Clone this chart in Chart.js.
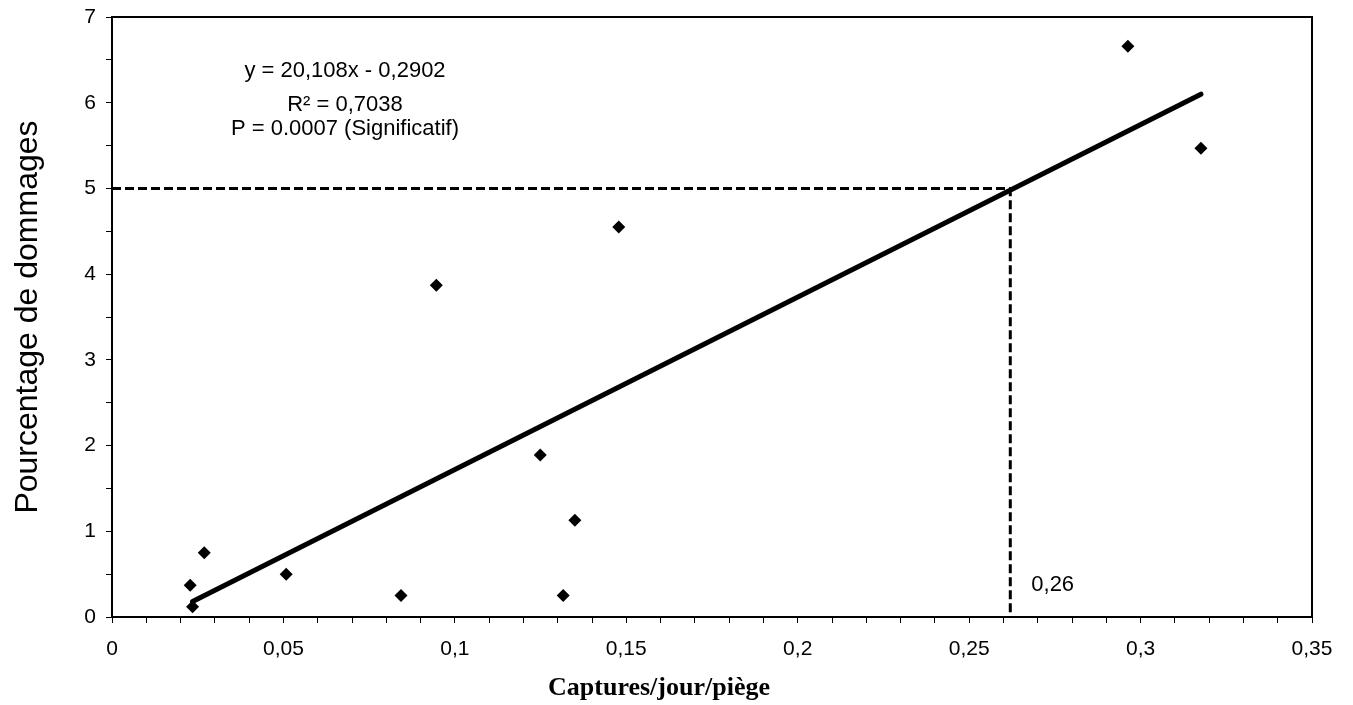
<!DOCTYPE html>
<html>
<head>
<meta charset="utf-8">
<script src="https://cdn.jsdelivr.net/npm/chart.js@4"></script>
<style>
  html, body { margin: 0; padding: 0; background: #fff; }
  canvas { display: block; }
</style>
</head>
<body>
<canvas id="chart_dommages" width="1353" height="705"></canvas>
<script>
// captures/jour/piège vs pourcentage de dommages
const captures = [0.0228, 0.0235, 0.0269, 0.0508, 0.0843, 0.0946, 0.1249, 0.1316, 0.1350, 0.1478, 0.2963, 0.3176];
const dommages = [0.37, 0.12, 0.75, 0.50, 0.25, 3.87, 1.89, 0.25, 1.13, 4.55, 6.66, 5.47];

// droite de régression (extrémités lues)
const trendX = [0.0235, 0.3176];
const trendY = [0.18, 6.10];

// seuil de 5 % -> 0,26 captures
const seuilX = [0, 0.262, 0.262];
const seuilY = [5, 5, 0];

const equation = ["y = 20,108x - 0,2902", "R² = 0,7038", "P = 0.0007 (Significatif)"];
const seuilLabel = "0,26";
const xTitle = "Captures/jour/piège";
const yTitle = "Pourcentage de dommages";

const toPoints = (xs, ys) => xs.map((x, i) => ({ x: x, y: ys[i] }));

Chart.defaults.font.family = "'Liberation Sans', Arial, sans-serif";
Chart.defaults.color = "#000";

const textPlugin = {
    id: "textPlugin",
    afterDraw(chart) {
        const ctx = chart.ctx;
        const area = chart.chartArea;
        const xs = chart.scales.x;
        const ys = chart.scales.y;
        ctx.save();

        // cadre haut et droit
        ctx.strokeStyle = "#000";
        ctx.lineWidth = 2;
        ctx.beginPath();
        ctx.moveTo(area.left, area.top);
        ctx.lineTo(area.right, area.top);
        ctx.lineTo(area.right, area.bottom);
        ctx.stroke();

        ctx.fillStyle = "#000";
        ctx.textAlign = "center";
        ctx.textBaseline = "middle";
        ctx.font = "22px 'Liberation Sans', Arial, sans-serif";
        ctx.fillText(equation[0], area.left + 233, area.top + 54);
        ctx.fillText(equation[1], area.left + 233, area.top + 88);
        ctx.fillText(equation[2], area.left + 233, area.top + 112);

        ctx.textAlign = "left";
        ctx.fillText(seuilLabel, xs.getPixelForValue(seuilX[1]) + 21, ys.getPixelForValue(0) - 32);

        ctx.textAlign = "center";
        ctx.font = "bold 26px 'Liberation Serif', 'Times New Roman', serif";
        ctx.fillText(xTitle, 659, 688);

        ctx.font = "32px 'Liberation Sans', Arial, sans-serif";
        ctx.translate(28, (area.top + area.bottom) / 2);
        ctx.rotate(-Math.PI / 2);
        ctx.fillText(yTitle, 0, 0);
        ctx.restore();
    },
};

new Chart(document.getElementById("chart_dommages"), {
    type: "scatter",
    data: {
        datasets: [
            {
                label: "Dommages",
                data: toPoints(captures, dommages),
                pointStyle: "rectRot",
                pointRadius: 6.5,
                backgroundColor: "#000",
                borderColor: "#000",
                borderWidth: 0,
            },
            {
                label: "Régression",
                data: toPoints(trendX, trendY),
                showLine: true,
                borderColor: "#000",
                borderWidth: 5,
                borderCapStyle: "round",
                pointRadius: 0,
            },
            {
                label: "Seuil",
                data: toPoints(seuilX, seuilY),
                showLine: true,
                borderColor: "#000",
                borderWidth: 3,
                borderDash: [9, 4],
                pointRadius: 0,
            },
        ],
    },
    options: {
        responsive: false,
        animation: false,
        devicePixelRatio: 1,
        layout: { padding: { left: 0, top: 17, right: 41, bottom: 0 } },
        plugins: {
            legend: { display: false },
            tooltip: { enabled: false },
        },
        scales: {
            x: {
                type: "linear",
                min: 0,
                max: 0.35,
                afterFit: (scale) => {
                    scale.height = 88;
                    scale.paddingLeft = 0;
                    scale.paddingRight = 0;
                },
                border: { color: "#000", width: 2 },
                grid: { drawOnChartArea: false, tickLength: 6, color: "#000", lineWidth: 1 },
                ticks: {
                    stepSize: 0.01,
                    autoSkip: false,
                    maxRotation: 0,
                    padding: 14,
                    font: { size: 21 },
                    callback: (v) => {
                        const k = v * 20;
                        if (Math.abs(k - Math.round(k)) > 1e-6) return "";
                        return String(Math.round(v * 100) / 100).replace(".", ",");
                    },
                },
            },
            y: {
                type: "linear",
                min: 0,
                max: 7,
                afterFit: (scale) => {
                    scale.width = 112;
                    scale.paddingTop = 0;
                    scale.paddingBottom = 0;
                },
                border: { color: "#000", width: 2 },
                grid: { drawOnChartArea: false, tickLength: 6, color: "#000", lineWidth: 1 },
                ticks: {
                    stepSize: 0.5,
                    autoSkip: false,
                    padding: 10,
                    font: { size: 21 },
                    callback: (v) => (Number.isInteger(v) ? String(v) : ""),
                },
            },
        },
    },
    plugins: [textPlugin],
});
</script>
</body>
</html>
